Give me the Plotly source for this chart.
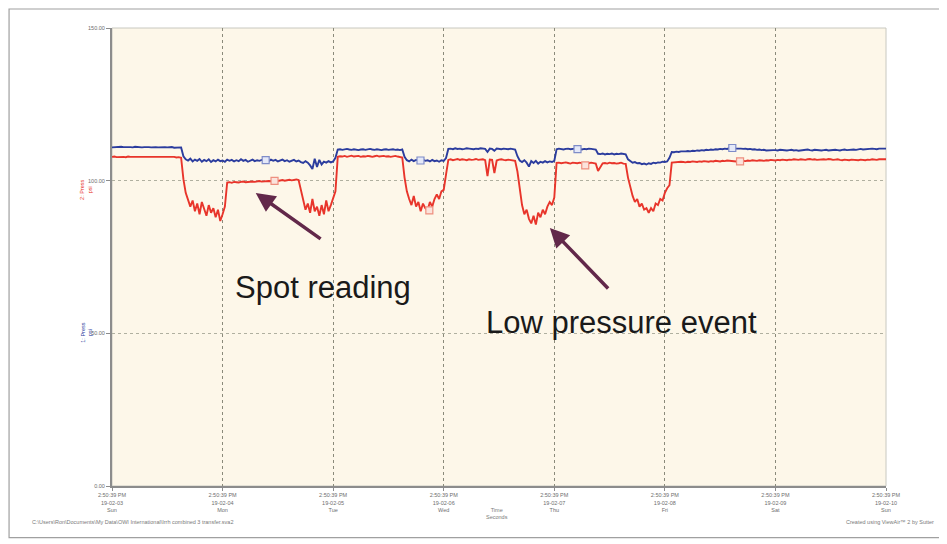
import pandas as pd
import plotly.graph_objects as go

# ---------------- data, half-hour samples per day ----------------
blue_days = [
    # Sun
    [110.9, 111.0, 110.9, 111.0, 111.1, 111.0, 110.9, 111.0, 111.0, 110.9, 111.1, 111.0, 111.0, 110.9, 111.0, 111.1,
     111.0, 110.9, 111.0, 111.0, 110.9, 111.0, 111.1, 111.0, 110.9, 111.0, 111.0, 110.8, 110.9, 111.0, 110.9,
     108.0, 107.0, 106.6, 107.2, 106.3, 106.9, 106.5, 107.1, 106.2, 106.8, 106.4, 107.0, 106.1, 106.7, 106.3, 106.9, 106.4],
    # Mon
    [106.6, 106.2, 106.9, 106.5, 106.8, 106.3, 106.7, 106.4, 107.0, 106.5, 106.8, 106.2, 106.6, 106.9, 106.4, 106.7,
     106.5, 106.8, 106.6, 106.7, 106.4, 106.9, 106.5, 106.8, 106.3, 106.6, 106.9, 106.4, 106.7, 106.2, 106.5, 106.8,
     106.3, 106.6, 106.1, 105.8, 106.4, 105.9, 105.0, 103.8, 107.2, 104.5, 106.8, 105.3, 106.2, 105.9, 106.4, 106.0],
    # Tue
    [106.3, 107.5, 110.2, 110.3, 110.1, 110.2, 110.4, 110.2, 110.1, 110.3, 110.2, 110.0, 110.2, 110.3, 110.1, 110.2,
     110.4, 110.2, 110.1, 110.3, 110.2, 110.0, 110.2, 110.3, 110.1, 110.2, 110.3, 110.1, 110.2, 110.0, 110.2,
     107.8, 106.7, 106.3, 106.9, 106.4, 106.8, 106.6, 106.2, 106.9, 106.5, 106.7, 106.3, 106.8, 106.4, 106.6, 106.2, 106.7],
    # Wed
    [106.5, 107.4, 110.4, 110.5, 110.3, 110.6, 110.4, 110.5, 110.3, 110.4, 110.6, 110.5, 110.4, 110.3, 110.5, 110.4,
     110.6, 110.5, 110.4, 109.4, 110.5, 110.4, 109.8, 110.5, 110.4, 110.3, 110.5, 110.4, 110.3, 110.5, 110.4, 110.2,
     108.0, 106.6, 106.1, 106.7, 105.9, 104.6, 106.4, 105.8, 106.5, 105.6, 106.2, 105.9, 106.4, 106.0, 106.3, 106.1],
    # Thu
    [106.5, 110.3, 110.5, 110.4, 110.2, 110.4, 110.5, 110.3, 110.4, 110.5, 110.3, 110.4, 110.2, 110.4, 110.3, 110.5,
     110.4, 110.3, 110.2, 108.8, 108.7, 108.9, 108.6, 108.8, 108.7, 108.9, 108.6, 108.8, 108.7, 108.9, 108.7, 108.6,
     107.0, 106.3, 105.9, 106.1, 105.7, 105.8, 105.4, 105.6, 105.3, 105.7, 105.5, 105.9, 105.7, 106.0, 105.9, 106.2],
    # Fri
    [106.1, 106.3, 107.5, 109.4, 109.3, 109.5, 109.4, 109.6, 109.5, 109.6, 109.7, 109.6, 109.8, 109.7, 109.9, 109.8,
     110.0, 109.9, 110.1, 110.0, 110.2, 110.1, 110.3, 110.2, 110.4, 110.3, 110.5, 110.4, 110.6, 110.7, 110.6, 110.5,
     110.6, 110.5, 110.4, 110.5, 110.3, 110.4, 110.2, 110.3, 110.1, 110.2, 110.0, 110.1, 109.9, 110.0, 109.9, 110.0],
    # Sat
    [110.0, 109.9, 110.1, 110.0, 109.8, 109.9, 110.0, 110.1, 109.9, 110.0, 109.8, 109.9, 110.0, 110.1, 110.2, 110.0,
     109.9, 110.1, 110.0, 109.8, 109.9, 110.0, 110.1, 109.9, 110.0, 110.2, 110.1, 110.0, 109.9, 110.1, 110.2, 110.0,
     110.1, 110.3, 110.2, 110.1, 110.3, 110.4, 110.2, 110.3, 110.4, 110.3, 110.5, 110.4, 110.3, 110.5, 110.4, 110.5],
]
blue_last = 110.5

red_days = [
    # Sun
    [107.8, 107.9, 107.7, 107.8, 107.9, 107.8, 107.7, 107.9, 107.8, 107.8, 107.7, 107.9, 107.8, 107.9, 107.7, 107.8,
     107.8, 107.9, 107.7, 107.8, 107.9, 107.8, 107.7, 107.8, 107.9, 107.8, 107.7, 107.8, 107.6, 107.7, 107.5,
     100.5, 96.0, 94.0, 91.5, 93.5, 90.0, 92.5, 89.0, 93.0, 90.5, 88.5, 92.0, 89.5, 91.0, 88.0, 90.5, 86.8],
    # Mon
    [89.0, 91.5, 99.4, 99.5, 99.3, 99.6, 99.5, 99.4, 99.6, 99.7, 99.5, 99.6, 99.8, 99.7, 99.6, 99.8,
     99.9, 99.7, 99.8, 100.0, 99.9, 99.8, 100.0, 100.1, 99.9, 100.1, 100.2, 100.0, 100.2, 100.3, 100.1, 100.3,
     100.4, 100.2, 97.0, 93.0, 90.5, 92.5, 89.5, 94.0, 90.0, 91.5, 88.5, 92.0, 89.0, 93.5, 90.0, 92.0],
    # Tue
    [94.0, 96.5, 107.8, 108.0, 107.9, 108.1, 107.8, 108.0, 108.2, 107.9, 108.0, 108.1, 107.8, 108.0, 107.9, 108.1,
     108.0, 107.8, 108.0, 108.2, 107.9, 108.0, 108.1, 107.9, 108.0, 107.8, 108.0, 108.1, 107.9, 107.8, 107.6,
     101.0, 96.5, 94.0, 92.0, 95.0, 91.5, 93.0, 90.0, 92.5, 91.0, 90.3, 93.0, 91.5, 94.0, 95.5, 94.0, 96.5],
    # Wed
    [97.0, 102.0, 106.8, 107.0, 106.7, 106.9, 107.1, 106.8, 107.0, 106.9, 106.7, 107.0, 106.8, 106.9, 107.1, 106.8,
     106.9, 107.0, 106.7, 101.5, 106.9, 106.8, 102.5, 106.6, 106.9, 107.0, 106.8, 106.7, 106.9, 106.8, 106.6, 106.5,
     103.0, 97.0, 92.0, 89.0, 90.5, 87.5, 86.0, 88.5, 85.6, 89.5, 88.0, 90.5, 89.0, 91.5, 93.0, 92.0],
    # Thu
    [94.5, 105.8, 105.9, 105.7, 105.8, 106.0, 105.8, 105.6, 105.9, 105.8, 105.7, 105.9, 105.8, 105.6, 105.8, 105.7,
     105.9, 105.8, 105.6, 103.2, 104.5, 105.7, 105.8, 105.6, 105.9, 105.7, 105.8, 105.6, 105.7, 105.9, 105.6, 105.5,
     101.0, 97.5, 95.0, 93.0, 94.0, 91.5, 92.5, 90.5, 91.0, 89.5, 91.0, 90.0, 92.5, 92.0, 94.0, 93.5],
    # Fri
    [96.0, 97.5, 98.5, 105.9, 106.0, 106.1, 106.0, 106.2, 106.1, 106.0, 106.2, 106.1, 106.3, 106.2, 106.1, 106.3,
     106.2, 106.4, 106.3, 106.2, 106.4, 106.3, 106.5, 106.4, 106.3, 106.5, 106.4, 106.6, 106.5, 106.4, 106.5, 106.3,
     106.4, 106.6, 106.5, 106.4, 106.6, 106.5, 106.7, 106.6, 106.5, 106.7, 106.6, 106.5, 106.7, 106.6, 106.8, 106.7],
    # Sat
    [106.6, 106.8, 106.7, 106.9, 106.8, 106.7, 106.9, 106.8, 107.0, 106.9, 106.8, 107.0, 106.9, 106.8, 107.0, 107.1,
     106.9, 107.0, 106.8, 106.9, 107.1, 107.0, 106.9, 107.1, 107.0, 106.8, 106.9, 107.0, 106.8, 106.7, 106.9, 106.8,
     106.7, 106.9, 106.8, 106.6, 106.7, 106.9, 106.8, 106.7, 106.9, 106.8, 107.0, 106.9, 106.8, 107.0, 106.9, 107.0],
]
red_last = 107.0

# spot-reading markers (day offsets from start, value)
blue_marker_days = [1.39, 2.79, 4.21, 5.61]
blue_marker_vals = [106.7, 106.6, 110.3, 110.7]
red_marker_days = [1.47, 2.87, 4.28, 5.68]
red_marker_vals = [99.9, 90.3, 105.0, 106.3]

tick_dates = ["19-02-03", "19-02-04", "19-02-05", "19-02-06", "19-02-07", "19-02-08", "19-02-09", "19-02-10"]
tick_days = ["Sun", "Mon", "Tue", "Wed", "Thu", "Fri", "Sat", "Sun"]
tick_time = "2:50:39 PM"
y_ticks = [0, 50, 100, 150]
y_ticktext = ["0.00", "50.00", "100.00", "150.00"]

# ---------------- build series ----------------
start = pd.Timestamp("2019-02-03 14:50:39")


def build(days, last):
    xs, ys = [], []
    for d, block in enumerate(days):
        n = len(block)
        for i, v in enumerate(block):
            xs.append(start + pd.Timedelta(days=d) + pd.Timedelta(days=1) * (i / n))
            ys.append(v)
    xs.append(start + pd.Timedelta(days=len(days)))
    ys.append(last)
    return xs, ys


bx, by = build(blue_days, blue_last)
rx, ry = build(red_days, red_last)

BLUE = "#2B3C9E"
RED = "#E8352B"
ARROW = "#62284A"
FONT = "Liberation Sans"

fig = go.Figure()
fig.add_trace(go.Scatter(x=bx, y=by, mode="lines", line=dict(color=BLUE, width=1.9), hoverinfo="skip"))
fig.add_trace(go.Scatter(x=rx, y=ry, mode="lines", line=dict(color=RED, width=1.9), hoverinfo="skip"))
fig.add_trace(go.Scatter(
    x=[start + pd.Timedelta(days=d) for d in blue_marker_days], y=blue_marker_vals, mode="markers",
    marker=dict(symbol="square", size=7, color="#E4E8F8", line=dict(color="#7F8CC8", width=1.2))))
fig.add_trace(go.Scatter(
    x=[start + pd.Timedelta(days=d) for d in red_marker_days], y=red_marker_vals, mode="markers",
    marker=dict(symbol="square", size=7, color="#FBE3DC", line=dict(color="#EE8F7F", width=1.2))))

tickvals = [start + pd.Timedelta(days=i) for i in range(len(tick_dates))]
ticktext = [f"{tick_time}<br>{d}<br>{w}" for d, w in zip(tick_dates, tick_days)]

fig.update_layout(
    width=939, height=536,
    margin=dict(l=104, r=61, t=20, b=58),
    paper_bgcolor="white",
    plot_bgcolor="#FDF7E9",
    showlegend=False,
    font=dict(family=FONT, size=6, color="#7A7A7A"),
    xaxis=dict(
        range=[tickvals[0], tickvals[-1]], tickvals=tickvals, ticktext=ticktext,
        showgrid=True, gridcolor="#8A8A7A", griddash="dot", gridwidth=1,
        showline=True, linecolor="#8C8C8C", linewidth=1.5,
        ticks="outside", ticklen=3, tickcolor="#8C8C8C",
        tickfont=dict(size=5.5, color="#6E6E6E"), zeroline=False,
    ),
    yaxis=dict(
        range=[0, 150], tickvals=y_ticks, ticktext=y_ticktext,
        showgrid=True, gridcolor="#B0B0A0", griddash="dot", gridwidth=1,
        showline=True, linecolor="#8C8C8C", linewidth=2,
        ticks="outside", ticklen=4, tickcolor="#8C8C8C",
        tickfont=dict(size=5.5, color="#6E6E6E"), zeroline=False,
    ),
)

# plot frame and outer frame
fig.add_shape(type="rect", xref="paper", yref="paper", x0=0, x1=1, y0=0, y1=1,
              line=dict(color="#C8C8C0", width=1), layer="below")
fig.add_shape(type="rect", xref="paper", yref="paper", x0=-0.1330, x1=1.0698, y0=-0.1125, y1=1.0415,
              line=dict(color="#A0A0A0", width=1.2))

# arrows
fig.add_annotation(x=start + pd.Timedelta(days=1.30), y=96.0, ax=start + pd.Timedelta(days=1.90), ay=80.6,
                   xref="x", yref="y", axref="x", ayref="y", text="", showarrow=True,
                   arrowhead=2, arrowsize=1.1, arrowwidth=3.5, arrowcolor=ARROW)
fig.add_annotation(x=start + pd.Timedelta(days=3.96), y=84.5, ax=start + pd.Timedelta(days=4.50), ay=64.2,
                   xref="x", yref="y", axref="x", ayref="y", text="", showarrow=True,
                   arrowhead=2, arrowsize=1.1, arrowwidth=3.5, arrowcolor=ARROW)

# annotation texts
fig.add_annotation(x=start + pd.Timedelta(days=1.908), y=65.0, xref="x", yref="y", text="Spot reading",
                   showarrow=False, font=dict(family=FONT, size=31, color="#1A1A1A"))
fig.add_annotation(x=start + pd.Timedelta(days=4.612), y=53.4, xref="x", yref="y", text="Low pressure event",
                   showarrow=False, font=dict(family=FONT, size=31, color="#1A1A1A"))

# y-axis titles (rotated)
fig.add_annotation(x=-0.045, y=0.672, xref="paper", yref="paper", text="2: Press<br>psi", textangle=-90,
                   showarrow=False, font=dict(family=FONT, size=5.5, color=RED))
fig.add_annotation(x=-0.045, y=0.334, xref="paper", yref="paper", text="1: Press<br>psi", textangle=-90,
                   showarrow=False, font=dict(family=FONT, size=5.5, color=BLUE))

# x-axis title and footer texts
fig.add_annotation(x=0.497, y=-0.078, xref="paper", yref="paper", text="Time<br>Seconds",
                   showarrow=False, font=dict(family=FONT, size=5.5, color="#7A7A7A"))
fig.add_annotation(x=-0.106, y=-0.09, xref="paper", yref="paper", xanchor="left",
                   text="C:\\Users\\Ron\\Documents\\My Data\\OWI International\\Irrh combined 3 transfer.sva2",
                   showarrow=False, font=dict(family=FONT, size=5.5, color="#7A7A7A"))
fig.add_annotation(x=1.065, y=-0.09, xref="paper", yref="paper", xanchor="right",
                   text="Created using ViewAir\u2122 2 by Sutter",
                   showarrow=False, font=dict(family=FONT, size=5.5, color="#7A7A7A"))

fig.write_html("out.html")
